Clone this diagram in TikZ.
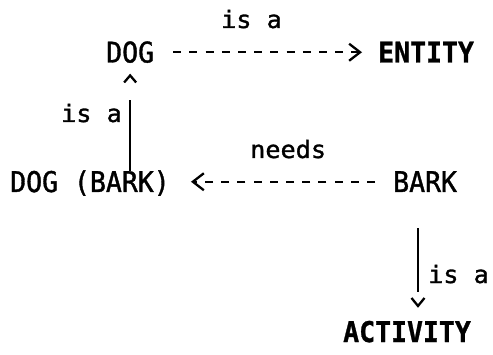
\documentclass[tikz,border=0pt]{standalone}
\usepackage{fontspec}
\usetikzlibrary{arrows.meta}
% condensed monospaced faces for concepts and relation names
\newfontfamily\conceptfont[FakeStretch=0.93,
  UprightFeatures={FakeBold=1.3}, BoldFeatures={FakeBold=1}]{DejaVu Sans Mono}
\newfontfamily\relfont[FakeStretch=1.05, FakeBold=1.3]{DejaVu Sans Mono}
\begin{document}
\begin{tikzpicture}[x=1pt,y=1pt,
  concept/.style={inner sep=0pt, anchor=base west, text height=20.5pt, text depth=0pt,
    font={\conceptfont\fontsize{28.5pt}{30pt}\selectfont}},
  keyconcept/.style={concept, font={\conceptfont\bfseries\fontsize{28.5pt}{30pt}\selectfont}},
  relname/.style={inner sep=0pt, anchor=base west,
    font={\relfont\fontsize{24pt}{26pt}\selectfont}},
  link/.style={line width=2.3pt, dash pattern=on 8pt off 8.2pt,
    -{Straight Barb[length=11pt,width=17pt]}},
  isalink/.style={line width=2.3pt, -{Straight Barb[length=7pt,width=12pt]}}]
\useasboundingbox (0,0) rectangle (493,354);

% concepts
\node[concept]    (dog)    at (106,291.5) {DOG};
\node[keyconcept] (entity) at (378,291.5) {ENTITY};
\node[concept]    (dbk)    at (10,162)    {DOG (BARK)};
\node[concept]    (bark)   at (393,162)   {BARK};
\node[keyconcept] (act)    at (343,12)    {ACTIVITY};

% relation names
\node[relname] (r1) at (221,326) {is a};
\node[relname] (r2) at (61,232)  {is a};
\node[relname] (r3) at (250,196) {needs};
\node[relname] (r4) at (428,71)  {is a};

% dashed relations
\draw[link, shorten <=19pt, shorten >=16pt] (dog.east) -- (entity.west);
\draw[link, shorten <=18pt, shorten >=21pt] (bark.west) -- (dbk.east);

% vertical is-a links, with a gap before the head
\draw[isalink, dash pattern=on 71pt off 100pt, shorten >=11pt]
  (dog.south |- dbk.north) -- (dog.south);
\draw[isalink, dash pattern=on 64pt off 100pt, shorten <=36pt, shorten >=13.5pt,
  -{Straight Barb[length=8pt,width=13pt]}]
  ([xshift=25pt]bark.south west) -- ([xshift=25pt]bark.south west |- act.north);
\end{tikzpicture}
\end{document}
